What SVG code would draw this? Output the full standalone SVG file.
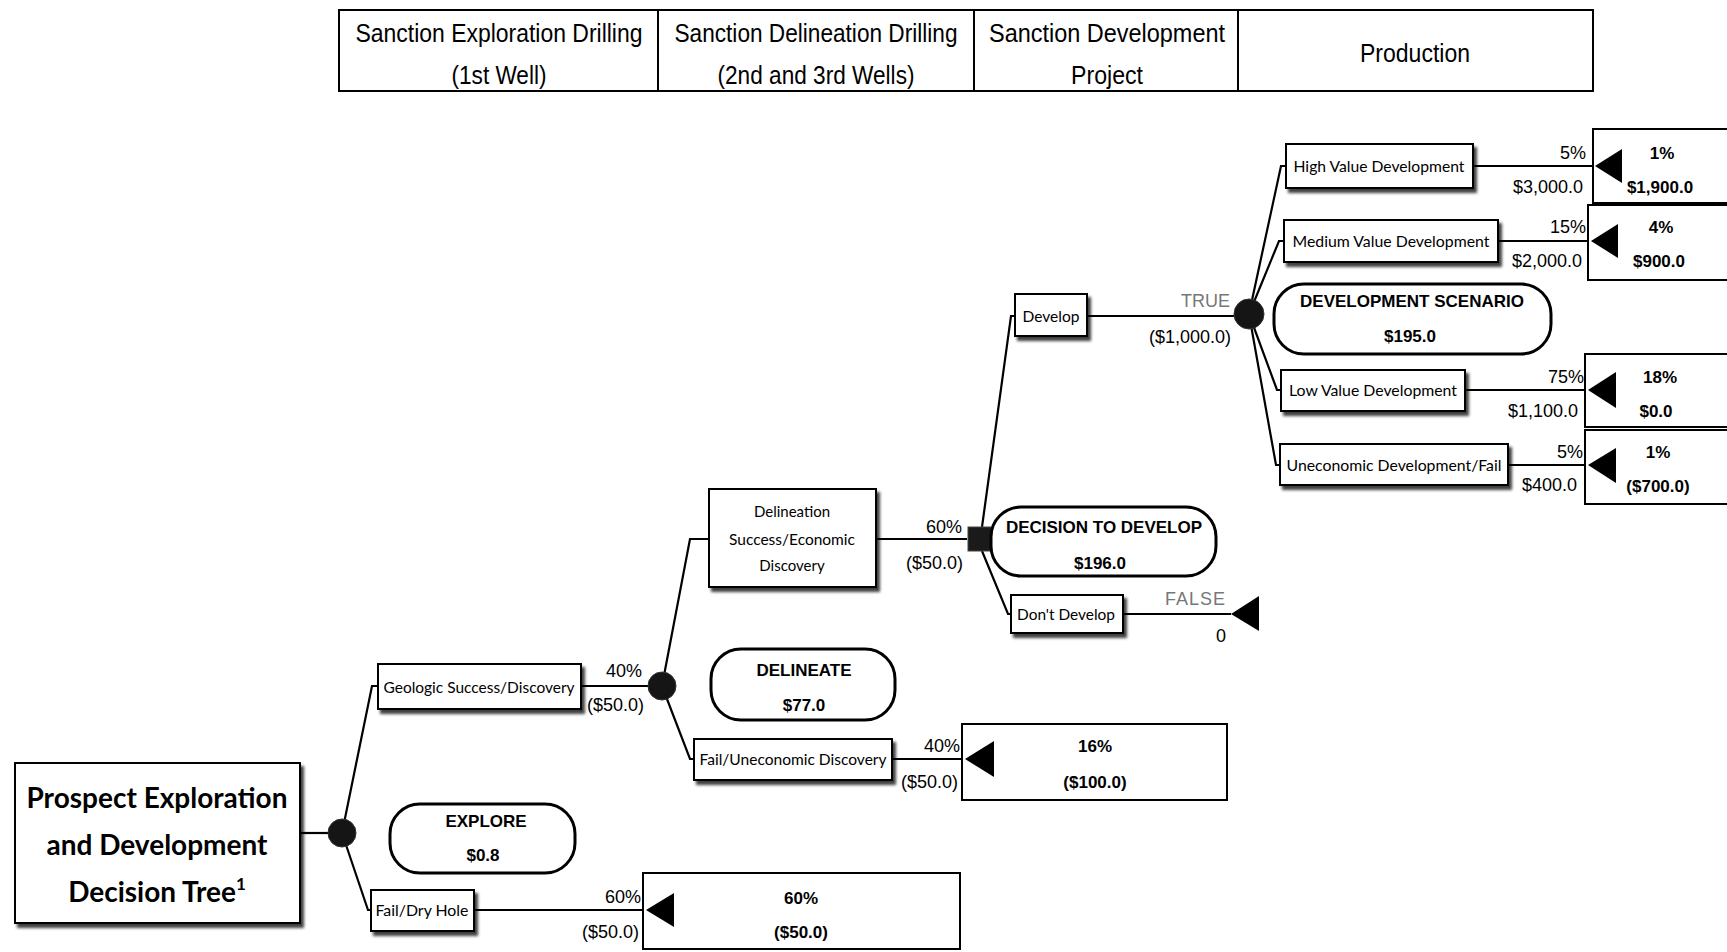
<svg xmlns="http://www.w3.org/2000/svg" width="1727" height="952" viewBox="0 0 1727 952">
<defs>
<filter id="sh" x="-10%" y="-10%" width="130%" height="150%">
<feDropShadow dx="3" dy="4" stdDeviation="1.5" flood-color="#000" flood-opacity="0.75"/>
</filter>
<style>
.box{fill:#fff;stroke:#000;stroke-width:2;filter:url(#sh)}
.rbox{fill:#fff;stroke:#000;stroke-width:3}
.term{fill:#fff;stroke:#000;stroke-width:2}
.ln{stroke:#000;stroke-width:2.2;fill:none}
.chance{fill:#151515;stroke:#333;stroke-width:1}
.tri{fill:#000}
.bt{font-family:Lato,"Open Sans",sans-serif;font-size:15px;text-anchor:middle;dominant-baseline:central;fill:#000}
.lbl{font-family:"Liberation Sans",Arial,sans-serif;font-size:18px;text-anchor:end;dominant-baseline:central;fill:#000}
.gray{fill:#777}
.tb{font-family:"Liberation Sans",Arial,sans-serif;font-size:17px;font-weight:bold;text-anchor:middle;dominant-baseline:central;fill:#000}
.hd{font-family:"Liberation Sans",Arial,sans-serif;font-size:26px;text-anchor:middle;fill:#000}
.title{font-family:Lato,"Open Sans",sans-serif;font-size:28px;font-weight:bold;text-anchor:middle;fill:#000}
</style>
</defs>
<rect width="1727" height="952" fill="#fff"/>

<g id="header">
<rect x="339" y="10" width="1254" height="81" fill="#fff" stroke="#000" stroke-width="2"/>
<line x1="658" y1="10" x2="658" y2="91" stroke="#000" stroke-width="2"/>
<line x1="974" y1="10" x2="974" y2="91" stroke="#000" stroke-width="2"/>
<line x1="1238" y1="10" x2="1238" y2="91" stroke="#000" stroke-width="2"/>
<text class="hd" x="499" y="42" textLength="287" lengthAdjust="spacingAndGlyphs">Sanction Exploration Drilling</text>
<text class="hd" x="499" y="84" textLength="95" lengthAdjust="spacingAndGlyphs">(1st Well)</text>
<text class="hd" x="816" y="42" textLength="283" lengthAdjust="spacingAndGlyphs">Sanction Delineation Drilling</text>
<text class="hd" x="816" y="84" textLength="197" lengthAdjust="spacingAndGlyphs">(2nd and 3rd Wells)</text>
<text class="hd" x="1107" y="42" textLength="236" lengthAdjust="spacingAndGlyphs">Sanction  Development</text>
<text class="hd" x="1107" y="84" textLength="72" lengthAdjust="spacingAndGlyphs">Project</text>
<text class="hd" x="1415" y="62" textLength="110" lengthAdjust="spacingAndGlyphs">Production</text>
</g>

<g id="connectors">
<path class="ln" d="M300 833 H329"/>
<path class="ln" d="M342 833 L372 686 H378"/>
<path class="ln" d="M342 833 L368 910 H371"/>
<path class="ln" d="M581 686 H648"/>
<path class="ln" d="M474 910 H646"/>
<path class="ln" d="M662 686 L690 539 H709"/>
<path class="ln" d="M662 686 L690 759 H694"/>
<path class="ln" d="M876 539 H967"/>
<path class="ln" d="M892 759 H965"/>
<path class="ln" d="M982 527 L1011 316 H1015"/>
<path class="ln" d="M982 551 L1008 614 H1011"/>
<path class="ln" d="M1087 316 H1235"/>
<path class="ln" d="M1123 614 H1231"/>
<path class="ln" d="M1249 314 L1281 166 H1286"/>
<path class="ln" d="M1249 314 L1279 241 H1284"/>
<path class="ln" d="M1249 314 L1277 390 H1281"/>
<path class="ln" d="M1249 314 L1276 465 H1280"/>
<path class="ln" d="M1473 166 H1595"/>
<path class="ln" d="M1498 241 H1591"/>
<path class="ln" d="M1465 390 H1588"/>
<path class="ln" d="M1508 465 H1588"/>
<text class="lbl" x="642" y="671">40%</text>
<text class="lbl" x="644" y="705">($50.0)</text>
<text class="lbl" x="641" y="897">60%</text>
<text class="lbl" x="639" y="932">($50.0)</text>
<text class="lbl" x="962" y="527">60%</text>
<text class="lbl" x="963" y="563">($50.0)</text>
<text class="lbl" x="960" y="746">40%</text>
<text class="lbl" x="958" y="782">($50.0)</text>
<text class="lbl gray" x="1230" y="301">TRUE</text>
<text class="lbl" x="1231" y="337">($1,000.0)</text>
<text class="lbl gray" x="1226" y="599" letter-spacing="1">FALSE</text>
<text class="lbl" x="1226" y="636">0</text>
<text class="lbl" x="1586" y="153">5%</text>
<text class="lbl" x="1583" y="187">$3,000.0</text>
<text class="lbl" x="1586" y="227">15%</text>
<text class="lbl" x="1582" y="261">$2,000.0</text>
<text class="lbl" x="1584" y="377">75%</text>
<text class="lbl" x="1578" y="411">$1,100.0</text>
<text class="lbl" x="1583" y="452">5%</text>
<text class="lbl" x="1577" y="485">$400.0</text>
</g>

<g id="root">
<rect class="box" x="15" y="763" width="285" height="160"/>
<text class="title" x="157" y="808">Prospect Exploration</text>
<text class="title" x="157" y="855">and Development</text>
<text class="title" x="157" y="902">Decision Tree<tspan font-size="17" dy="-12">1</tspan></text>
</g>

<g id="chance-explore"><circle class="chance" cx="342" cy="833" r="14"/></g>
<g id="explore"><rect class="rbox" x="390" y="804" width="185" height="69" rx="30"/>
<text class="tb" x="486" y="821">EXPLORE</text><text class="tb" x="483" y="855">$0.8</text></g>

<g id="geologic"><rect class="box" x="378" y="664" width="203" height="45"/>
<text class="bt" x="479" y="687" textLength="191" lengthAdjust="spacingAndGlyphs">Geologic Success/Discovery</text></g>

<g id="faildry"><rect class="box" x="371" y="890" width="103" height="41"/>
<text class="bt" x="422" y="910" textLength="93" lengthAdjust="spacingAndGlyphs">Fail/Dry Hole</text></g>

<g id="term-dry"><rect class="term" x="643" y="873" width="317" height="76"/>
<polygon class="tri" points="646,910 674,893 674,927"/>
<text class="tb" x="801" y="898">60%</text><text class="tb" x="801" y="932">($50.0)</text></g>

<g id="chance-delineate"><circle class="chance" cx="662" cy="686" r="14"/></g>
<g id="delineate"><rect class="rbox" x="711" y="649" width="184" height="71" rx="30"/>
<text class="tb" x="804" y="670">DELINEATE</text><text class="tb" x="804" y="705">$77.0</text></g>

<g id="delineation-success"><rect class="box" x="709" y="489" width="167" height="98"/>
<text class="bt" x="792" y="511">Delineation</text>
<text class="bt" x="792" y="539" textLength="126" lengthAdjust="spacingAndGlyphs">Success/Economic</text>
<text class="bt" x="792" y="565">Discovery</text></g>

<g id="fail-unecon"><rect class="box" x="694" y="739" width="198" height="41"/>
<text class="bt" x="793" y="759" textLength="187" lengthAdjust="spacingAndGlyphs">Fail/Uneconomic Discovery</text></g>

<g id="term-unecon"><rect class="term" x="962" y="724" width="265" height="76"/>
<polygon class="tri" points="965,759 994,741 994,777"/>
<text class="tb" x="1095" y="746">16%</text><text class="tb" x="1095" y="782">($100.0)</text></g>

<g id="decision-develop"><rect x="968" y="527" width="23" height="24" fill="#1a1a1a" stroke="#444" stroke-width="1"/></g>
<g id="decision-box"><rect class="rbox" x="991" y="507" width="225" height="69" rx="30"/>
<text class="tb" x="1104" y="527">DECISION TO DEVELOP</text><text class="tb" x="1100" y="563">$196.0</text></g>

<g id="develop"><rect class="box" x="1015" y="294" width="72" height="42"/>
<text class="bt" x="1051" y="316" textLength="57" lengthAdjust="spacingAndGlyphs">Develop</text></g>

<g id="dont-develop"><rect class="box" x="1011" y="595" width="112" height="38"/>
<text class="bt" x="1066" y="614" textLength="98" lengthAdjust="spacingAndGlyphs">Don't Develop</text></g>
<g id="term-false"><polygon class="tri" points="1231,614 1259,596 1259,631"/></g>

<g id="chance-scenario"><circle class="chance" cx="1249" cy="314" r="15"/></g>
<g id="scenario"><rect class="rbox" x="1274" y="284" width="277" height="70" rx="30"/>
<text class="tb" x="1412" y="301">DEVELOPMENT SCENARIO</text><text class="tb" x="1410" y="336">$195.0</text></g>

<g id="high"><rect class="box" x="1286" y="144" width="187" height="44"/>
<text class="bt" x="1379" y="166" textLength="171" lengthAdjust="spacingAndGlyphs">High Value Development</text></g>
<g id="medium"><rect class="box" x="1284" y="220" width="214" height="42"/>
<text class="bt" x="1391" y="241" textLength="197" lengthAdjust="spacingAndGlyphs">Medium Value Development</text></g>
<g id="low"><rect class="box" x="1281" y="370" width="184" height="41"/>
<text class="bt" x="1373" y="390" textLength="168" lengthAdjust="spacingAndGlyphs">Low Value Development</text></g>
<g id="unecon-dev"><rect class="box" x="1280" y="444" width="228" height="41"/>
<text class="bt" x="1394" y="465" textLength="215" lengthAdjust="spacingAndGlyphs">Uneconomic Development/Fail</text></g>

<g id="term-high"><rect class="term" x="1593" y="129" width="150" height="74"/>
<polygon class="tri" points="1595,166 1622,149 1622,183"/>
<text class="tb" x="1662" y="153">1%</text><text class="tb" x="1660" y="187">$1,900.0</text></g>
<g id="term-medium"><rect class="term" x="1588" y="205" width="155" height="75"/>
<polygon class="tri" points="1591,241 1618,224 1618,258"/>
<text class="tb" x="1661" y="227">4%</text><text class="tb" x="1659" y="261">$900.0</text></g>
<g id="term-low"><rect class="term" x="1585" y="354" width="158" height="73"/>
<polygon class="tri" points="1588,390 1616,372 1616,408"/>
<text class="tb" x="1660" y="377">18%</text><text class="tb" x="1656" y="411">$0.0</text></g>
<g id="term-uneconomic"><rect class="term" x="1585" y="430" width="158" height="74"/>
<polygon class="tri" points="1588,465 1616,448 1616,483"/>
<text class="tb" x="1658" y="452">1%</text><text class="tb" x="1658" y="486">($700.0)</text></g>
</svg>
